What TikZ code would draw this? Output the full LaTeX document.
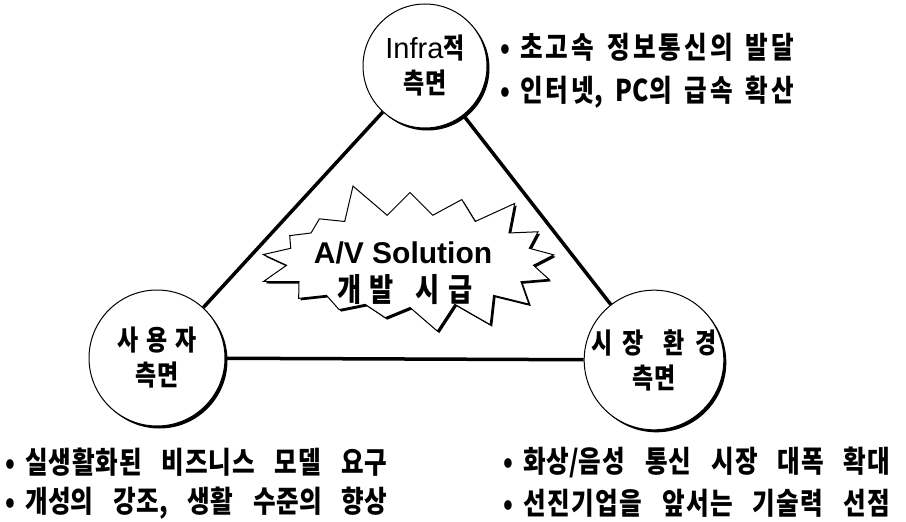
\documentclass[tikz,border=0pt]{standalone}
\usepackage{fontspec}
\usetikzlibrary{shapes.symbols,shadows}
\newfontfamily\kr{Noto Sans CJK KR}[FakeStretch=0.82]
\newfontfamily\lat{Liberation Sans}
% hangul syllables get stretchable glue between them
\newXeTeXintercharclass\hangulcls
\newcount\hgc
\hgc="AC00
\loop \XeTeXcharclass\hgc=\hangulcls \ifnum\hgc<"D7A3 \advance\hgc by 1 \repeat
\XeTeXinterchartoks\hangulcls\hangulcls={\hspace{0pt plus 1fil}}
\newcommand{\spread}[3][13pt]{\makebox[#2][s]{\XeTeXinterchartokenstate=1 \spaceskip=#1\relax #3}}
\newcommand{\itm}[3][13pt]{\makebox[20pt][l]{•}\spread[#1]{#2}{#3}}
\tikzstyle{cn}=[circle,draw=black,fill=white,line width=1pt,inner sep=0pt,
  minimum size=124pt,align=center,font=\kr\bfseries\fontsize{28}{35}\selectfont,
  drop shadow={fill=black,opacity=1,shadow xshift=2.5pt,shadow yshift=-2.5pt}]
\tikzstyle{sb}=[starburst,starburst points=17,starburst point height=36pt,
  random starburst=5,draw=black,fill=white,line width=1pt,inner sep=0pt,
  minimum width=320pt,minimum height=165pt,align=center,
  drop shadow={fill=black,opacity=1,shadow xshift=2pt,shadow yshift=-2pt}]
\tikzstyle{bt}=[anchor=west,inner sep=0pt,font=\kr\bfseries\fontsize{30}{30}\selectfont]
\tikzstyle{ln}=[line width=3.5pt]

\begin{document}
\begin{tikzpicture}[x=1pt,y=-1pt]
    \useasboundingbox (0,0) rectangle (906,522);
        \node[style=cn] (0) at (425, 66) {{\lat\mdseries\fontsize{29}{35}\selectfont Infra}적\\측면};
		\node[style=cn,minimum size=136pt] (1) at (157, 358) {\spread[0pt]{80pt}{사용자}\\측면};
		\node[style=cn,minimum size=138pt] (2) at (654, 360) {\spread[20pt]{126pt}{시장 환경}\\측면};
        \draw[style=ln] (0) to (1);
		\draw[style=ln] (0) to (2);
		\draw[style=ln] (1) to (2);
		\node[style=sb] (3) at (410, 261) {};
		\node (4) at (403, 253) {\lat\bfseries\fontsize{30}{30}\selectfont A/V Solution};
		\node (5) at (405, 290) {\kr\bfseries\fontsize{32}{32}\selectfont\spread[22pt]{135pt}{개발 시급}};
		\node[style=bt] (6) at (500, 47) {\itm{274pt}{초고속 정보통신의 발달}};
		\node[style=bt] (7) at (500, 92) {\itm{274pt}{인터넷, PC의 급속 확산}};
		\node[style=bt] (8) at (5, 462) {\itm[20pt]{362pt}{실생활화된 비즈니스 모델 요구}};
		\node[style=bt] (9) at (5, 503) {\itm[20pt]{362pt}{개성의 강조, 생활 수준의 향상}};
		\node[style=bt] (10) at (503, 462) {\itm[20pt]{367pt}{화상/음성 통신 시장 대폭 확대}};
		\node[style=bt] (11) at (503, 503) {\itm[20pt]{367pt}{선진기업을 앞서는 기술력 선점}};
    \end{tikzpicture}
\end{document}
